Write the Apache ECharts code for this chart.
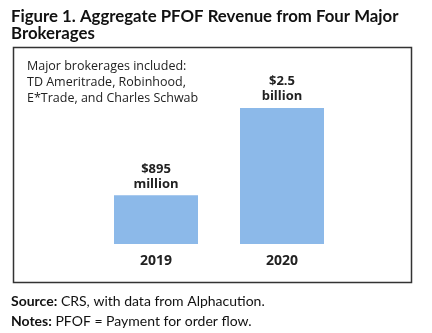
<!DOCTYPE html>
<html><head><meta charset="utf-8">
<script src="https://cdn.jsdelivr.net/npm/echarts@6/dist/echarts.min.js"></script>
<style>html,body{margin:0;padding:0;background:#fff}#c{width:432px;height:333px}</style>
</head><body><div id="c"></div>
<script>
const categories = ['2019', '2020'];
const revenueMillions = [895, 2500];
const valueLabels = ['$895\nmillion', '$2.5\nbillion'];
const titleText = 'Figure 1. Aggregate PFOF Revenue from Four Major\nBrokerages';
const noteLines = ['Major brokerages included:', 'TD Ameritrade, Robinhood,', 'E*Trade, and Charles Schwab'];

const chart = echarts.init(document.getElementById('c'), null, {renderer: 'canvas'});
chart.setOption({
  animation: false,
  backgroundColor: '#fff',
  title: {
    text: titleText, left: 11, top: 8, padding: 0,
    textStyle: {fontFamily: 'Lato', fontWeight: 'bold', fontSize: 16.8, color: '#111', lineHeight: 17}
  },
  grid: {left: 93, right: 432 - 345, top: 108, bottom: 333 - 244},
  xAxis: {
    type: 'category', data: categories,
    axisLine: {show: false}, axisTick: {show: false},
    axisLabel: {fontFamily: 'Open Sans', fontWeight: 'bold', fontSize: 14, color: '#222', margin: 10}
  },
  yAxis: {type: 'value', min: 0, max: 2500, show: false, splitLine: {show: false}},
  series: [{
    type: 'bar', data: revenueMillions, barWidth: 84,
    itemStyle: {color: '#8cb9e9'},
    label: {
      show: true, position: 'top', distance: 4,
      formatter: p => valueLabels[p.dataIndex],
      fontFamily: 'Open Sans', fontWeight: 'bold', fontSize: 13, lineHeight: 15, color: '#222'
    }
  }],
  graphic: [
    {type: 'rect', shape: {x: 13.5, y: 47.5, width: 398, height: 235}, style: {fill: 'none', stroke: '#333', lineWidth: 1.5}, z: 10},
    {type: 'text', x: 27, y: 58, style: {text: noteLines.join('\n'), font: '12.5px "Open Sans"', lineHeight: 16, fill: '#222'}},
    {type: 'text', x: 11, y: 291, style: {
      text: '{b|Source:} CRS, with data from Alphacution.\n{b|Notes:} PFOF = Payment for order flow.',
      rich: {b: {fontFamily: 'Lato', fontWeight: 'bold', fontSize: 14, fill: '#111'}},
      font: '14px Lato', lineHeight: 20, fill: '#111'
    }}
  ]
});
</script></body></html>
